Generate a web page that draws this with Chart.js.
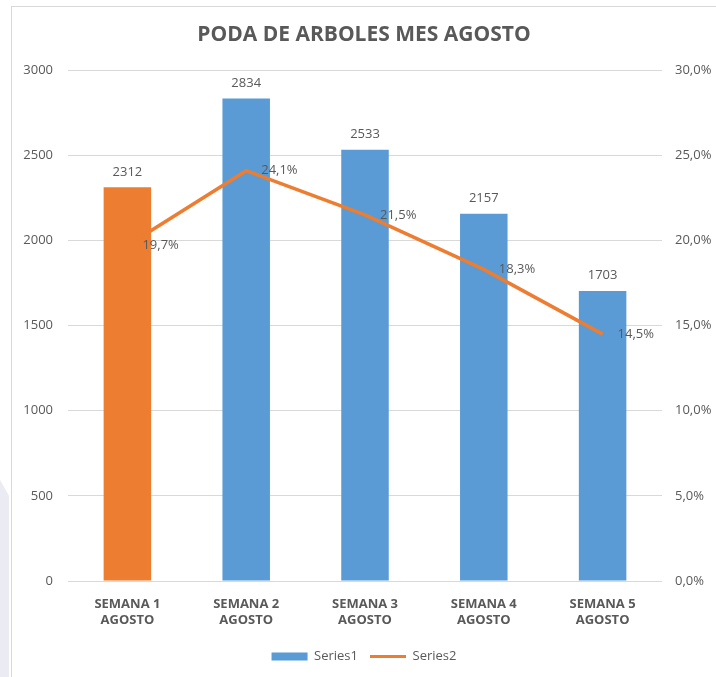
<!DOCTYPE html>
<html lang="es">
<head>
  <meta charset="UTF-8">
  <title>Poda de árboles mes agosto</title>
  <script src="https://cdn.jsdelivr.net/npm/chart.js"></script>
  <style>
    html, body { margin: 0; padding: 0; background: #fff; overflow: hidden; }
    #wrap { position: relative; width: 716px; height: 677px; }
    #marco { position: absolute; left: 11px; top: 6px; width: 720px; height: 700px;
             border: 1px solid #d9d9d9; pointer-events: none; }
    #sombra { position: absolute; left: 0; top: 480px; width: 9px; height: 197px;
              background: #ebebf3; clip-path: polygon(0 0, 100% 8%, 100% 100%, 0 100%); }
    canvas { position: absolute; left: 0; top: 0; }
  </style>
</head>
<body>
  <div id="wrap">
    <div id="sombra"></div>
    <canvas id="grafico" width="716" height="677"></canvas>
    <div id="marco"></div>
  </div>

  <script>
    const semanas = [
      ['SEMANA 1', 'AGOSTO'],
      ['SEMANA 2', 'AGOSTO'],
      ['SEMANA 3', 'AGOSTO'],
      ['SEMANA 4', 'AGOSTO'],
      ['SEMANA 5', 'AGOSTO']
    ];
    const arbolesPodados = [2312, 2834, 2533, 2157, 1703];
    const porcentaje = [19.7, 24.1, 21.5, 18.3, 14.5];

    const AZUL = '#5b9bd5';
    const NARANJA = '#ed7d31';
    const GRIS = '#595959';
    const FUENTE = "'Open Sans', 'Noto Sans', sans-serif";

    const fmtPct = v => v.toFixed(1).replace('.', ',') + '%';

    // etiquetas de valor sobre las barras y a la derecha de los puntos
    const etiquetas = {
      id: 'etiquetas',
      afterDatasetsDraw(chart) {
        const ctx = chart.ctx;
        ctx.save();
        ctx.font = '13px ' + FUENTE;
        ctx.fillStyle = GRIS;
        chart.getDatasetMeta(0).data.forEach((bar, i) => {
          ctx.textAlign = 'center';
          ctx.textBaseline = 'bottom';
          ctx.fillText(String(arbolesPodados[i]), bar.x, bar.y - 9);
        });
        chart.getDatasetMeta(1).data.forEach((pt, i) => {
          ctx.textAlign = 'left';
          ctx.textBaseline = 'middle';
          ctx.fillText(fmtPct(porcentaje[i]), pt.x + 15, pt.y);
        });
        ctx.restore();
      }
    };

    Chart.defaults.font.family = FUENTE;
    Chart.defaults.color = GRIS;

    new Chart(document.getElementById('grafico'), {
      data: {
        labels: semanas,
        datasets: [
          {
            type: 'bar',
            label: 'Series1',
            data: arbolesPodados,
            backgroundColor: arbolesPodados.map((_, i) => i === 0 ? NARANJA : AZUL),
            borderWidth: 0,
            barPercentage: 0.4,
            categoryPercentage: 1,
            yAxisID: 'y',
            pointStyle: 'rect',
            order: 2
          },
          {
            type: 'line',
            label: 'Series2',
            data: porcentaje,
            borderColor: NARANJA,
            backgroundColor: NARANJA,
            borderWidth: 3.5,
            tension: 0,
            pointRadius: 0,
            pointStyle: 'line',
            yAxisID: 'y1',
            order: 1
          }
        ]
      },
      options: {
        responsive: false,
        animation: false,
        layout: { padding: { left: 12, right: 0, top: 0, bottom: 4 } },
        plugins: {
          title: {
            display: true,
            text: 'PODA DE ARBOLES MES AGOSTO',
            color: GRIS,
            font: { size: 21, weight: 'bold' },
            padding: { top: 22, bottom: 23 }
          },
          legend: {
            position: 'bottom',
            labels: {
              usePointStyle: true,
              pointStyleWidth: 36,
              boxHeight: 8,
              padding: 12,
              font: { size: 13 },
              color: GRIS,
              generateLabels(chart) {
                const items = Chart.defaults.plugins.legend.labels.generateLabels(chart);
                items.sort((a, b) => a.datasetIndex - b.datasetIndex);
                items.forEach(it => {
                  if (it.datasetIndex === 0) {
                    it.fillStyle = AZUL;
                    it.strokeStyle = AZUL;
                    it.lineWidth = 0;
                  } else {
                    it.strokeStyle = NARANJA;
                    it.lineWidth = 3;
                  }
                });
                return items;
              }
            }
          },
          tooltip: { enabled: false }
        },
        scales: {
          x: {
            grid: { display: false },
            border: { display: false },
            ticks: {
              font: { size: 13, weight: 'bold', lineHeight: 1.25 },
              color: GRIS,
              padding: 7,
              maxRotation: 0
            },
            afterFit(scale) { scale.height = 57; }
          },
          y: {
            position: 'left',
            min: 0,
            max: 3000,
            ticks: { stepSize: 500, font: { size: 13 }, color: GRIS, padding: 15, callback: v => String(v) },
            grid: { color: '#d9d9d9', lineWidth: 1, drawTicks: false },
            border: { display: false },
            afterFit(scale) { scale.width = 56; }
          },
          y1: {
            position: 'right',
            min: 0,
            max: 30,
            ticks: { stepSize: 5, font: { size: 13 }, color: GRIS, padding: 13, callback: v => fmtPct(v) },
            grid: { display: false, drawTicks: false },
            border: { display: false },
            afterFit(scale) { scale.width = 54; }
          }
        }
      },
      plugins: [etiquetas]
    });
  </script>
</body>
</html>
